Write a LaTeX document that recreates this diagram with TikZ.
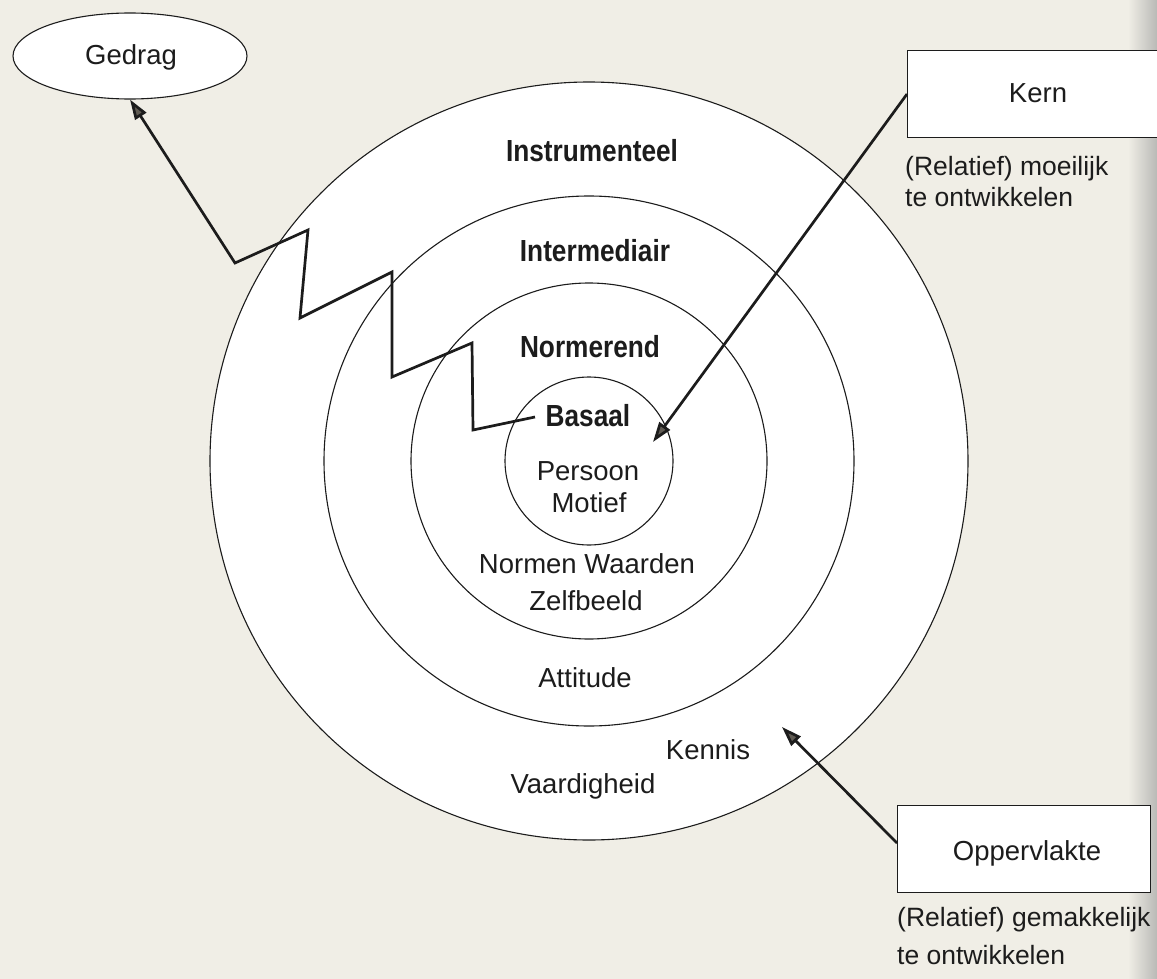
\documentclass[tikz,border=0pt]{standalone}
\usepackage{fontspec}
\setmainfont{Liberation Sans}
\newfontfamily\condsans{Liberation Sans}[FakeStretch=0.86]
\usetikzlibrary{arrows.meta,shapes.geometric}
\definecolor{paper}{RGB}{240,238,230}
\definecolor{gutter}{RGB}{185,185,182}
\definecolor{ink}{RGB}{28,28,28}
\definecolor{headfill}{RGB}{96,91,83}
\begin{document}
\begin{tikzpicture}[x=1pt,y=-1pt,
  ring/.style={draw=ink, line width=1.1pt, fill=white},
  reg/.style={font=\fontsize{27.5}{33}\selectfont, text=ink, inner sep=0pt,
              text height=20pt, text depth=0pt},
  capt/.style={font=\fontsize{26.5}{32}\selectfont, text=ink, inner sep=0pt,
              text height=19pt, text depth=0pt, anchor=west},
  bld/.style={font=\condsans\bfseries\fontsize{30.5}{36}\selectfont, text=ink,
              inner sep=0pt, text height=22pt, text depth=0pt},
  boxnode/.style={draw=ink, line width=1.1pt, fill=white, inner sep=0pt},
  conn/.style={draw=ink, line width=2.7pt, line join=miter,
               -{Triangle[length=20pt,width=13pt,fill=headfill]}},
]
% canvas
\useasboundingbox (0,0) rectangle (1157,979);
\clip (0,0) rectangle (1157,979);
\fill[paper] (0,0) rectangle (1157,979);
\shade[left color=paper, right color=gutter] (1128,0) rectangle (1157,979);

% concentric rings
\coordinate (c) at (589,461);
\draw[ring] (c) circle[radius=379];
\draw[ring] (c) circle[radius=265];
\draw[ring] (c) circle[radius=178];
\draw[ring] (c) circle[radius=84];

% ring labels
\node[bld] (instr) at (592,151) {Instrumenteel};
\node[bld] (inter) at (595,250) {Intermediair};
\node[bld] (norm)  at (590,346) {Normerend};
\node[bld] (basaal) at (588,415) {Basaal};

\node[reg] (persoon) at (588,470) {Persoon};
\node[reg] (motief)  at (589,502) {Motief};
\node[reg] (normen)  at (587,563) {Normen Waarden};
\node[reg] (zelf)    at (586,600) {Zelfbeeld};
\node[reg] (attit)   at (585,677) {Attitude};
\node[reg] (kennis)  at (708,749) {Kennis};
\node[reg] (vaard)   at (583,783) {Vaardigheid};

% Gedrag ellipse
\node[ellipse, draw=ink, line width=1.1pt, fill=white, inner sep=0pt,
      minimum width=234pt, minimum height=86pt] (gedragshape) at (130,56) {};
\node[reg] (gedrag) at (131,55) {Gedrag};

% Kern box (runs off the page edge)
\node[boxnode, anchor=north west, minimum width=300pt, minimum height=87pt]
     (kern) at (907,50) {};
\node[reg] (kerntxt) at (1038,93) {Kern};
\node[capt] (kernc1) at (905,166) {(Relatief) moeilijk};
\node[capt] (kernc2) at (905,197) {te ontwikkelen};

% Oppervlakte box
\node[boxnode, anchor=north west, minimum width=253pt, minimum height=87pt]
     (opp) at (897,805) {};
\node[reg] (opptxt) at (1027,850) {Oppervlakte};
\node[capt] (oppc1) at (897,917) {(Relatief) gemakkelijk};
\node[capt] (oppc2) at (897,955) {te ontwikkelen};

% connectors
\coordinate (zstart) at (535,417);
\draw[conn] (zstart) -- (473,430) -- (472,343) -- (392,377) -- (392,272)
     -- (300,318) -- (308,230) -- (235,263) -- (gedragshape.south);
\coordinate (kerntip) at (653,442);
\draw[conn] (kern.west) -- (kerntip);
\coordinate (opptip) at (782,727);
\draw[conn] ([yshift=6pt]opp.west) -- (opptip);
\end{tikzpicture}
\end{document}
